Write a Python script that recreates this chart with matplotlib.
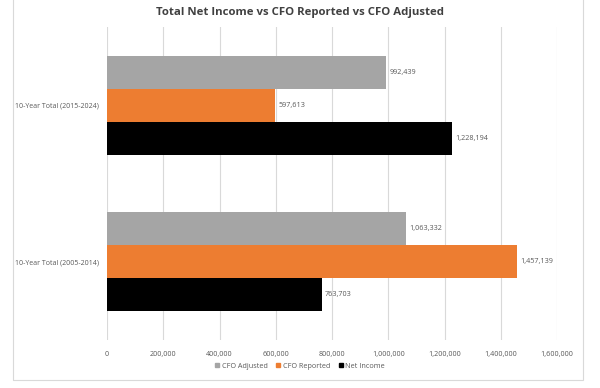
import matplotlib.pyplot as plt
import numpy as np
from matplotlib.patches import Rectangle

# data
categories = ["10-Year Total (2005-2014)", "10-Year Total (2015-2024)"]
series_names = ["CFO Adjusted", "CFO Reported", "Net Income"]
cfo_adjusted = [1063332, 992439]
cfo_reported = [1457139, 597613]
net_income = [763703, 1228194]
xticks = [0, 200000, 400000, 600000, 800000, 1000000, 1200000, 1400000, 1600000]

colors = ["#a5a5a5", "#ed7d31", "#000000"]
txt = "#595959"

plt.rcParams['font.family'] = ['Open Sans', 'DejaVu Sans']

fig = plt.figure(figsize=(6, 3.88), dpi=100)
ax = fig.add_axes([107/600, 1-340/388, 450/600, 313/388])

h = 0.21
y = np.arange(len(categories))
offsets = [h, 0, -h]
for vals, off, c in zip([cfo_adjusted, cfo_reported, net_income], offsets, colors):
    bars = ax.barh(y + off, vals, height=h, color=c, zorder=2)
    for b, v in zip(bars, vals):
        ax.text(v + 12000, b.get_y() + b.get_height()/2, f"{v:,}",
                va="center", ha="left", fontsize=5.2, color=txt)

ax.set_xlim(0, 1600000)
ax.set_ylim(-0.5, 1.5)
ax.set_xticks(xticks)
ax.set_xticklabels([f"{t:,}" for t in xticks], fontsize=5.2, color=txt)
ax.set_yticks(y)
ax.set_yticklabels(categories, fontsize=5.0, color=txt)
ax.tick_params(length=0, pad=8)
ax.tick_params(axis="y", pad=6)
ax.grid(axis="x", color="#d9d9d9", linewidth=0.8, zorder=0)
for s in ax.spines.values():
    s.set_visible(False)

fig.text(0.5, 1-12/388, "Total Net Income vs CFO Reported vs CFO Adjusted",
         ha="center", va="center", fontsize=8.2, color="#404040", fontweight="bold")

# legend
handles = [Rectangle((0, 0), 1, 1, color=c) for c in colors]
fig.legend(handles, series_names, loc="center", bbox_to_anchor=(0.5, 1-366/388),
           ncol=3, frameon=False, fontsize=5.2, handlelength=0.6, handleheight=0.6,
           columnspacing=1.2, handletextpad=0.3, labelcolor=txt)

# chart border
fig.patches.append(Rectangle((13/600, 1-380/388), 570/600, 390/388, transform=fig.transFigure,
                             fill=False, edgecolor="#d9d9d9", linewidth=0.8))

fig.savefig("out.png", dpi=100)
